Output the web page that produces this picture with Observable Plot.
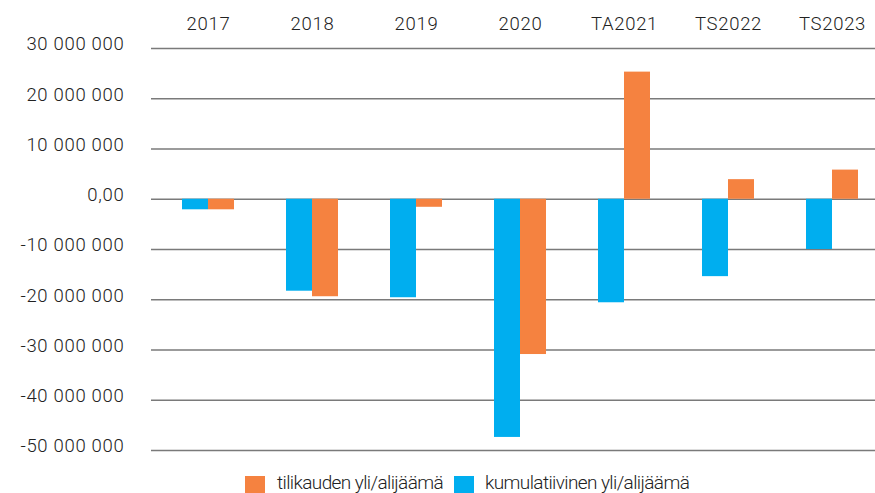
<!DOCTYPE html>
<html>
<head>
<meta charset="utf-8">
<script src="https://cdn.jsdelivr.net/npm/d3@7"></script>
<script src="https://cdn.jsdelivr.net/npm/@observablehq/plot@0.6"></script>
<style>
  html, body { margin: 0; padding: 0; background: #fff; }
  body { width: 875px; height: 493px; overflow: hidden; font-family: Roboto, "Noto Sans", sans-serif; }
  #chart svg text { letter-spacing: 0.7px; font-weight: 300; }
  #legend { position: relative; height: 25px; font-size: 19px; font-weight: 300; color: #222; letter-spacing: -0.6px; }
  .sw { position: absolute; top: 8px; width: 20px; height: 20px; }
  .lt { position: absolute; top: 5px; line-height: 20px; white-space: nowrap; }
</style>
</head>
<body>
<div id="chart"></div>
<div id="legend"></div>
<script>
const categories = ["2017", "2018", "2019", "2020", "TA2021", "TS2022", "TS2023"];
const kumulatiivinen = [-2.1e6, -18.3e6, -19.6e6, -47.4e6, -20.6e6, -15.4e6, -10.0e6];
const tilikauden = [-2.1e6, -19.4e6, -1.6e6, -30.9e6, 25.3e6, 3.9e6, 5.8e6];
const seriesNames = ["kumulatiivinen yli/alijäämä", "tilikauden yli/alijäämä"];
const seriesColors = ["#00AEEF", "#F58240"];
const yTicks = [30e6, 20e6, 10e6, 0, -10e6, -20e6, -30e6, -40e6, -50e6];

const data = [];
categories.forEach((c, i) => {
  data.push({cat: c, series: seriesNames[0], value: kumulatiivinen[i]});
  data.push({cat: c, series: seriesNames[1], value: tilikauden[i]});
});

function fmt(d) {
  if (d === 0) return "0,00";
  const s = Math.abs(d).toFixed(0).replace(/\B(?=(\d{3})+(?!\d))/g, " ");
  return (d < 0 ? "-" : "") + s;
}

const chart = Plot.plot({
  width: 875,
  height: 468,
  marginLeft: 150,
  marginRight: 0,
  marginTop: 48,
  marginBottom: 18,
  style: {fontFamily: "Roboto, sans-serif", fontSize: "18.5px", color: "#222", background: "#fff"},
  fx: {domain: categories, range: [150, 880], padding: 0, label: null},
  x: {domain: seriesNames, paddingInner: 0, paddingOuter: 1, align: 0.6, axis: null},
  y: {domain: [-50e6, 30e6], label: null},
  color: {domain: seriesNames, range: seriesColors},
  marks: [
    Plot.ruleY(yTicks, {stroke: "#7a7a7a", strokeWidth: 1.6}),
    Plot.barY(data, {fx: "cat", x: "series", y: "value", fill: "series"}),
    Plot.axisFx({anchor: "top", tickSize: 0, tickPadding: 19, label: null, fontSize: 18.5, dx: 5}),
    Plot.axisY(yTicks, {tickSize: 0, tickPadding: 27, tickFormat: fmt, label: null, dy: -4, fontSize: 18.5})
  ]
});
document.getElementById("chart").appendChild(chart);

const legend = document.getElementById("legend");
const items = [
  {name: seriesNames[1], color: seriesColors[1], sx: 245, tx: 277},
  {name: seriesNames[0], color: seriesColors[0], sx: 454, tx: 485}
];
items.forEach(it => {
  const sw = document.createElement("div");
  sw.className = "sw";
  sw.style.left = it.sx + "px";
  sw.style.background = it.color;
  legend.appendChild(sw);
  const t = document.createElement("div");
  t.className = "lt";
  t.style.left = it.tx + "px";
  t.textContent = it.name;
  legend.appendChild(t);
});
</script>
</body>
</html>
